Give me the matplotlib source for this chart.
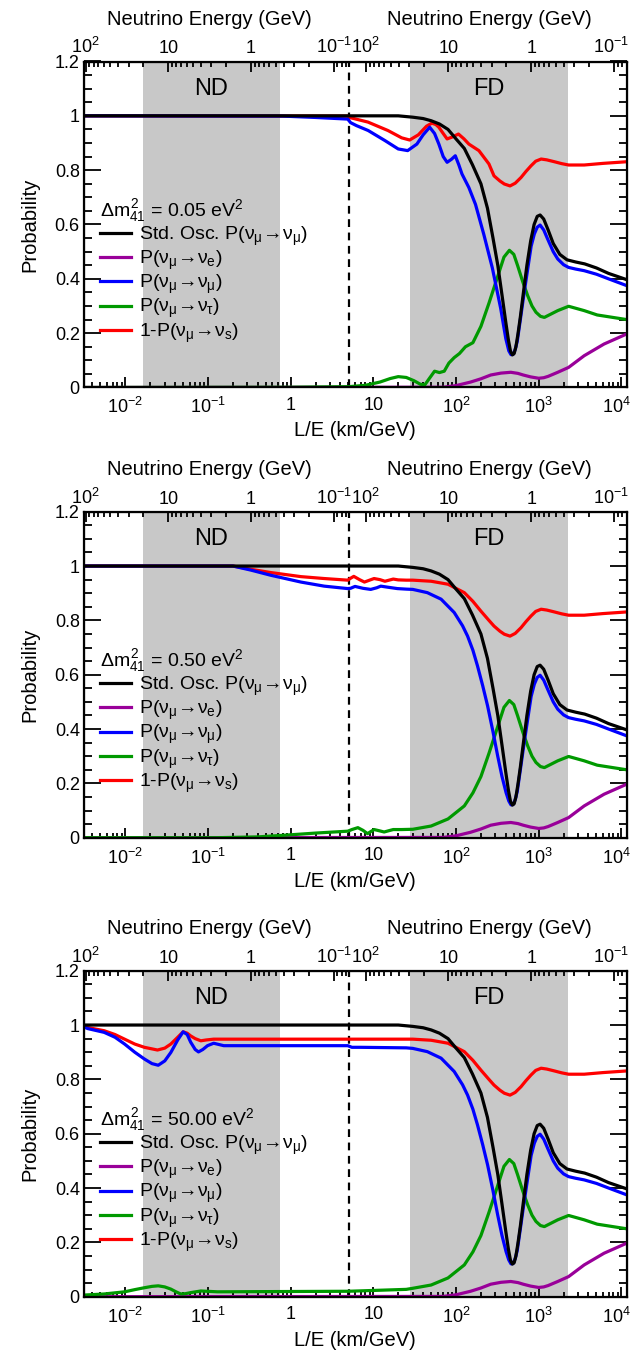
import numpy as np
import matplotlib
matplotlib.use('Agg')
import matplotlib.pyplot as plt
from matplotlib.ticker import FixedLocator, NullFormatter, FuncFormatter, MultipleLocator, LogLocator
from matplotlib.transforms import blended_transform_factory, ScaledTranslation

plt.rcParams['font.family'] = ['Liberation Sans', 'DejaVu Sans']
plt.rcParams['mathtext.fontset'] = 'custom'
plt.rcParams['mathtext.rm'] = 'Liberation Sans'
plt.rcParams['mathtext.it'] = 'Liberation Sans'
plt.rcParams['mathtext.bf'] = 'Liberation Sans:bold'
plt.rcParams['font.size'] = 13

# axis ranges / detector geometry (L/E in km/GeV)
X_MIN, X_MAX = 10 ** -2.5, 1.16e4
L_ND, L_FD = 0.33, 810.0
SPLIT = 5.1
ND_BAND = (0.0164, 0.738)
FD_BAND = (27.8, 2240.0)
TOP_E = [100, 10, 1, 0.1]
BOTTOM_TICKS = [1e-2, 1e-1, 1, 10, 100, 1e3, 1e4]

DM2_LABELS = ['0.05', '0.50', '50.00']

# standard 3-flavour P(numu->numu), identical in all panels
STD_X = [0.00316, 20, 30, 40, 50, 63, 80, 100, 126, 158, 200, 240, 280, 320, 360, 400, 430, 455,
         480, 505, 530, 560, 600, 660, 720, 800, 880, 960, 1040, 1150, 1300, 1500, 1800, 2200,
         2800, 3600, 5000, 7000, 11600]
STD_Y = [1.0, 1.0, 0.995, 0.99, 0.982, 0.97, 0.95, 0.915, 0.88, 0.82, 0.75, 0.66, 0.55, 0.45, 0.34,
         0.24, 0.175, 0.135, 0.12, 0.125, 0.15, 0.195, 0.26, 0.36, 0.45, 0.54, 0.60, 0.63, 0.635,
         0.62, 0.58, 0.53, 0.49, 0.47, 0.462, 0.455, 0.44, 0.42, 0.397]

# far detector parts shared by the panels
FD_BLUE_X = [30, 45, 66, 95, 120, 138, 160, 182, 210, 241, 280, 319, 360, 403, 435, 462, 490, 520,
             550, 600, 660, 736, 810, 885, 960, 1040, 1150, 1285, 1500, 1700, 2000, 2300, 2800,
             3550, 5000, 7000, 11600]
FD_BLUE_Y = [0.914, 0.902, 0.878, 0.829, 0.78, 0.742, 0.69, 0.632, 0.56, 0.485, 0.39, 0.301, 0.225,
             0.166, 0.135, 0.121, 0.122, 0.14, 0.17, 0.25, 0.34, 0.436, 0.52, 0.565, 0.59, 0.598,
             0.58, 0.546, 0.50, 0.473, 0.452, 0.442, 0.436, 0.43, 0.417, 0.40, 0.375]

FD_RED_X = [30, 50, 80, 126, 160, 200, 250, 288, 340, 384, 450, 520, 611, 700, 807, 920, 1070,
            1250, 1550, 1900, 2300, 3550, 6000, 11600]
FD_RED_Y = [0.948, 0.944, 0.933, 0.902, 0.87, 0.834, 0.80, 0.779, 0.76, 0.749, 0.742, 0.752, 0.773,
            0.795, 0.816, 0.833, 0.841, 0.838, 0.831, 0.824, 0.819, 0.819, 0.825, 0.831]

FD_GREEN_X = [30, 50, 80, 126, 160, 200, 250, 320, 380, 442, 500, 557, 640, 736, 830, 927, 1050,
              1170, 1400, 1700, 2300, 3550, 5100, 11600]
FD_GREEN_Y = [0.031, 0.043, 0.069, 0.117, 0.165, 0.225, 0.31, 0.41, 0.48, 0.505, 0.49, 0.448, 0.39,
              0.338, 0.30, 0.277, 0.262, 0.258, 0.27, 0.283, 0.299, 0.283, 0.267, 0.25]

PURPLE_X = [0.00316, 70, 100, 150, 200, 263, 350, 460, 560, 650, 800, 1000, 1150, 1300, 1700, 2300,
            3550, 6170, 11600]
PURPLE_Y = [0.0, 0.001, 0.007, 0.02, 0.032, 0.046, 0.053, 0.056, 0.052, 0.046, 0.039, 0.034, 0.036,
            0.041, 0.056, 0.074, 0.117, 0.16, 0.197]

# panel 1: dm2 = 0.05 eV^2
P1_BLUE_X = [0.00316, 0.8, 2, 4.9, 5.3, 6.25, 8.65, 13.8, 20, 26, 33.6, 40, 48, 55, 62, 70, 78, 88,
             98, 108, 118, 143, 172, 217, 275, 347, 400, 435]
P1_BLUE_Y = [1.0, 0.999, 0.994, 0.988, 0.975, 0.964, 0.946, 0.909, 0.878, 0.872, 0.896, 0.93, 0.958,
             0.935, 0.896, 0.85, 0.829, 0.84, 0.853, 0.82, 0.786, 0.736, 0.674, 0.563, 0.44, 0.291,
             0.18, 0.135]
P1_RED_X = [0.00316, 4.9, 5.3, 8.6, 15, 22, 27.5, 35, 44, 51, 57, 62, 70, 78, 90, 107, 125, 143,
            189, 250]
P1_RED_Y = [1.0, 0.999, 0.993, 0.977, 0.946, 0.919, 0.911, 0.93, 0.962, 0.973, 0.968, 0.958, 0.935,
            0.915, 0.922, 0.933, 0.915, 0.896, 0.872, 0.823]
P1_GREEN_X = [0.00316, 1, 5, 8, 12, 16, 20, 25, 31, 37, 42, 48, 55, 63, 72, 82, 95, 110, 130]
P1_GREEN_Y = [0.0, 0.001, 0.003, 0.008, 0.02, 0.033, 0.04, 0.037, 0.025, 0.012, 0.01, 0.035, 0.06,
              0.055, 0.06, 0.09, 0.11, 0.125, 0.15]

# panel 2: dm2 = 0.50 eV^2
P2_BLUE_X = [0.00316, 0.2, 0.33, 0.575, 1.33, 2.54, 4.9, 5.3, 6.0, 7.5, 9.3, 11, 12.3, 15, 19.5, 25]
P2_BLUE_Y = [1.0, 1.0, 0.985, 0.966, 0.941, 0.926, 0.917, 0.918, 0.925, 0.918, 0.914, 0.92, 0.926,
             0.922, 0.917, 0.915]
P2_RED_X = [0.00316, 0.2, 0.33, 0.575, 1.33, 2.54, 4.9, 5.3, 5.8, 6.8, 7.8, 9, 10.2, 12, 13.8, 15.5,
            17.4, 20, 25]
P2_RED_Y = [1.0, 1.0, 0.988, 0.976, 0.961, 0.954, 0.948, 0.955, 0.962, 0.95, 0.941, 0.948, 0.954,
            0.95, 0.944, 0.948, 0.952, 0.949, 0.948]
P2_GREEN_X = [0.00316, 0.13, 0.4, 0.83, 2, 4.9, 5.5, 6.5, 7.5, 8.5, 10.2, 12, 13.5, 15.5, 17.4, 22]
P2_GREEN_Y = [0.0, 0.0, 0.003, 0.009, 0.017, 0.024, 0.03, 0.037, 0.027, 0.015, 0.03, 0.025, 0.021,
              0.026, 0.03, 0.03]

# panel 3: dm2 = 50 eV^2
P3_BLUE_X = [0.00316, 0.0035, 0.00555, 0.0075, 0.0098, 0.013, 0.017, 0.021, 0.025, 0.03, 0.0355,
             0.043, 0.05, 0.056, 0.0617, 0.07, 0.0767, 0.0866, 0.0986, 0.117, 0.155, 4.9, 5.5, 7, 25]
P3_BLUE_Y = [0.993, 0.987, 0.973, 0.955, 0.93, 0.9, 0.875, 0.858, 0.852, 0.868, 0.899, 0.945, 0.975,
             0.965, 0.937, 0.91, 0.901, 0.91, 0.924, 0.933, 0.924, 0.924, 0.918, 0.918, 0.916]
P3_RED_X = [0.00316, 0.0035, 0.00555, 0.0075, 0.0098, 0.013, 0.017, 0.0245, 0.03, 0.0355, 0.043,
            0.05, 0.056, 0.0617, 0.07, 0.0818, 0.095, 0.117, 0.2, 25]
P3_RED_Y = [0.995, 0.991, 0.979, 0.965, 0.948, 0.93, 0.918, 0.908, 0.915, 0.93, 0.955, 0.975, 0.97,
            0.96, 0.95, 0.942, 0.945, 0.948, 0.948, 0.948]
P3_GREEN_X = [0.00316, 0.00555, 0.0098, 0.013, 0.017, 0.021, 0.025, 0.03, 0.0355, 0.041, 0.0468,
              0.053, 0.0617, 0.0818, 0.13, 5, 25]
P3_GREEN_Y = [0.006, 0.01, 0.018, 0.026, 0.033, 0.038, 0.04, 0.036, 0.028, 0.018, 0.01, 0.011,
              0.015, 0.021, 0.018, 0.02, 0.027]

COLORS = {'std': 'black', 'e': '#990099', 'mu': '#0000ff', 'tau': '#009900', 's': '#ff0000'}


def join(hx, hy, tx, ty):
    '''Head of a curve followed by the shared far-detector tail.'''
    xs, ys = list(hx), list(hy)
    for x, y in zip(tx, ty):
        if x > hx[-1]:
            xs.append(x)
            ys.append(y)
    return xs, ys


PANELS = [
    (join(P1_BLUE_X, P1_BLUE_Y, FD_BLUE_X, FD_BLUE_Y),
     join(P1_RED_X, P1_RED_Y, FD_RED_X, FD_RED_Y),
     join(P1_GREEN_X, P1_GREEN_Y, FD_GREEN_X, FD_GREEN_Y)),
    (join(P2_BLUE_X, P2_BLUE_Y, FD_BLUE_X, FD_BLUE_Y),
     join(P2_RED_X, P2_RED_Y, FD_RED_X, FD_RED_Y),
     join(P2_GREEN_X, P2_GREEN_Y, FD_GREEN_X, FD_GREEN_Y)),
    (join(P3_BLUE_X, P3_BLUE_Y, FD_BLUE_X, FD_BLUE_Y),
     join(P3_RED_X, P3_RED_Y, FD_RED_X, FD_RED_Y),
     join(P3_GREEN_X, P3_GREEN_Y, FD_GREEN_X, FD_GREEN_Y)),
]


def pow_label(v):
    e = int(round(np.log10(v)))
    if e == 0:
        return '1'
    if e == 1:
        return '10'
    return r'$10^{%d}$' % e


W, H = 633, 1362
fig = plt.figure(figsize=(W / 100, H / 100), dpi=100)
left_px, right_px = 84, 626.7
bottoms_px = [387.5, 837.7, 1296.7]
height_px = 326.0
lw = 2.3
TICK_FS = 13
TITLE_FS = 14.5
LEG_FS = 14

minor_E = ([k * 10 for k in range(2, 10)] + list(range(2, 10)) +
           [k * 0.1 for k in range(2, 10)] + [k * 0.01 for k in range(2, 10)])

for i, (blue, red, green) in enumerate(PANELS):
    ax = fig.add_axes([left_px / W, 1 - bottoms_px[i] / H,
                       (right_px - left_px) / W, height_px / H])
    ax.axvspan(*ND_BAND, color='#c8c8c8', lw=0, zorder=0)
    ax.axvspan(*FD_BAND, color='#c8c8c8', lw=0, zorder=0)
    ax.axvline(SPLIT, color='black', lw=1.6, ls=(0, (3.5, 2.5)), zorder=1)

    l_e, = ax.plot(PURPLE_X, PURPLE_Y, color=COLORS['e'], lw=lw)
    l_tau, = ax.plot(green[0], green[1], color=COLORS['tau'], lw=lw)
    l_s, = ax.plot(red[0], red[1], color=COLORS['s'], lw=lw)
    l_mu, = ax.plot(blue[0], blue[1], color=COLORS['mu'], lw=lw)
    l_std, = ax.plot(STD_X, STD_Y, color=COLORS['std'], lw=lw)

    ax.set_xscale('log')
    ax.set_xlim(X_MIN, X_MAX)
    ax.set_ylim(0, 1.2)
    ax.xaxis.set_major_locator(FixedLocator(BOTTOM_TICKS))
    ax.xaxis.set_minor_locator(LogLocator(base=10, subs=np.arange(2, 10), numticks=20))
    ax.xaxis.set_major_formatter(FuncFormatter(lambda v, p: pow_label(v)))
    ax.xaxis.set_minor_formatter(NullFormatter())
    ax.yaxis.set_major_locator(MultipleLocator(0.2))
    ax.yaxis.set_minor_locator(MultipleLocator(0.05))
    ax.yaxis.set_major_formatter(FuncFormatter(lambda v, p: '%g' % round(v, 2)))
    ax.tick_params(axis='y', which='both', direction='in', left=True, right=True, width=1.3)
    ax.tick_params(axis='y', which='major', length=12, pad=3, labelsize=TICK_FS)
    ax.tick_params(axis='y', which='minor', length=6)
    ax.tick_params(axis='x', which='both', direction='in', bottom=True, top=False, width=1.3)
    ax.tick_params(axis='x', which='major', length=7, pad=7, labelsize=TICK_FS)
    ax.tick_params(axis='x', which='minor', length=3.5)
    for sp in ax.spines.values():
        sp.set_linewidth(1.6)

    ax.set_xlabel('L/E (km/GeV)', fontsize=TITLE_FS, labelpad=3)
    ax.set_ylabel('Probability', fontsize=TITLE_FS, labelpad=11)

    ax.text(np.sqrt(ND_BAND[0] * ND_BAND[1]), 1.10, 'ND', ha='center', va='center', fontsize=17)
    ax.text(np.sqrt(FD_BAND[0] * FD_BAND[1]), 1.10, 'FD', ha='center', va='center', fontsize=17)

    # top axis: neutrino energy for ND and FD baselines
    top = ax.twiny()
    top.set_xscale('log')
    top.set_xlim(X_MIN, X_MAX)
    major_pos = [L_ND / e for e in TOP_E] + [L_FD / e for e in TOP_E]
    top.xaxis.set_major_locator(FixedLocator(major_pos))
    top.xaxis.set_major_formatter(FuncFormatter(
        lambda v, p: pow_label(TOP_E[p % 4]) if p is not None else ''))
    minor_pos = [L_ND / e for e in minor_E if L_ND / e < SPLIT]
    minor_pos += [L_FD / e for e in minor_E if SPLIT < L_FD / e < X_MAX]
    top.xaxis.set_minor_locator(FixedLocator(minor_pos))
    top.xaxis.set_minor_formatter(NullFormatter())
    top.tick_params(axis='x', which='both', direction='in', top=True, bottom=False, width=1.3)
    top.tick_params(axis='x', which='major', length=7, pad=3, labelsize=TICK_FS)
    top.tick_params(axis='x', which='minor', length=3.5)
    tr = blended_transform_factory(ax.transData, ax.transAxes)
    ax.text(0.104, 1.128, 'Neutrino Energy (GeV)', transform=tr, ha='center', va='center',
            fontsize=TITLE_FS)
    ax.text(L_FD / np.sqrt(10), 1.128, 'Neutrino Energy (GeV)', transform=tr, ha='center',
            va='center', fontsize=TITLE_FS)

    handles = [l_std, l_e, l_mu, l_tau, l_s]
    labels = [r'Std. Osc. P($\nu_\mu\!\rightarrow\!\nu_\mu$)',
              r'P($\nu_\mu\!\rightarrow\!\nu_e$)',
              r'P($\nu_\mu\!\rightarrow\!\nu_\mu$)',
              r'P($\nu_\mu\!\rightarrow\!\nu_\tau$)',
              r'1-P($\nu_\mu\!\rightarrow\!\nu_s$)']
    leg = ax.legend(handles, labels, loc='upper left', bbox_to_anchor=(0.03, 0.585),
                    frameon=False, fontsize=LEG_FS, handlelength=1.6, handletextpad=0.4,
                    labelspacing=0.05, borderpad=0, borderaxespad=0,
                    title=r'$\Delta m^2_{41}$ = %s eV$^2$' % DM2_LABELS[i],
                    title_fontsize=LEG_FS, alignment='left')
    leg.get_title().set_ha('left')

    # keep the last bottom label (10^4) inside the figure edge
    fig.canvas.draw()
    last = ax.xaxis.get_majorticklabels()[-1]
    last.set_transform(last.get_transform() + ScaledTranslation(-5 / 100, 0, fig.dpi_scale_trans))
    last_top = top.xaxis.get_majorticklabels()[-1]
    last_top.set_transform(last_top.get_transform() +
                           ScaledTranslation(-3 / 100, 0, fig.dpi_scale_trans))

fig.savefig('out.png', dpi=100)
